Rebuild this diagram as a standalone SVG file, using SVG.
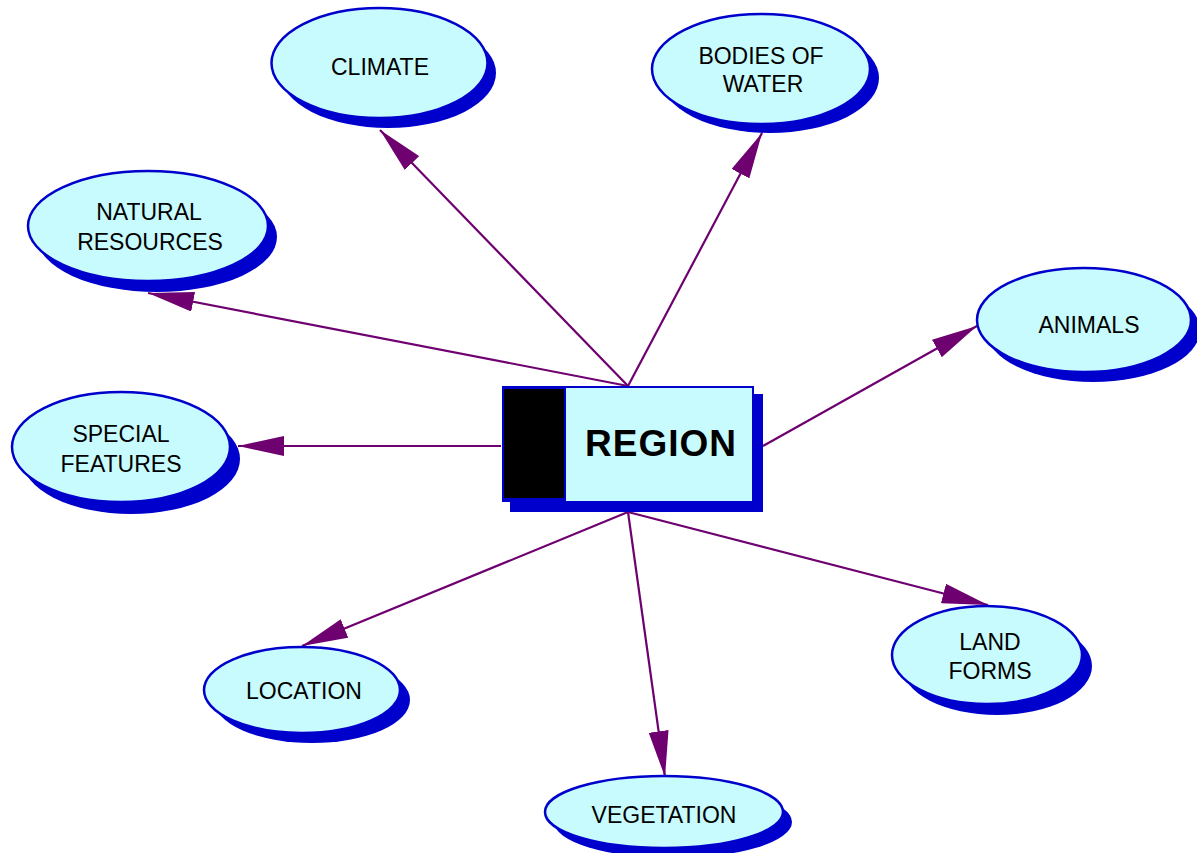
<svg xmlns="http://www.w3.org/2000/svg" width="1197" height="853" viewBox="0 0 1197 853">
<style>
.sh{fill:#0000cc;stroke:none}
.el{fill:#c8fbfd;stroke:#0000cc;stroke-width:2.5}
.lb{font-family:"Liberation Sans",Arial,sans-serif;font-size:23px;fill:#000;text-anchor:middle}
.cn{stroke:#6e0070;stroke-width:2.2;fill:none;marker-end:url(#ah)}
</style>
<defs>
<marker id="ah" markerUnits="userSpaceOnUse" viewBox="0 0 46 20" refX="46" refY="10" markerWidth="46" markerHeight="20" orient="auto">
<path d="M0,0 L46,10 L0,20 Z" fill="#6e0070"/>
</marker>
</defs>
<rect width="1197" height="853" fill="#fff"/>
<g id="connectors">
<line class="cn" x1="628" y1="386" x2="380" y2="130"/>
<line class="cn" x1="628" y1="386" x2="762" y2="133"/>
<line class="cn" x1="628" y1="386" x2="148" y2="293"/>
<line class="cn" x1="501" y1="446" x2="238" y2="446"/>
<line class="cn" x1="763" y1="446" x2="977" y2="326"/>
<line class="cn" x1="628" y1="512" x2="302" y2="646"/>
<line class="cn" x1="628" y1="512" x2="665" y2="777"/>
<line class="cn" x1="628" y1="512" x2="988" y2="605"/>
</g>
<g id="region">
<rect x="510" y="394" width="253" height="118" class="sh"/>
<rect x="502" y="386" width="252" height="116" fill="#0000cc"/>
<rect x="566" y="388" width="186" height="113" fill="#c8fbfd"/>
<rect x="504" y="389" width="60" height="109" fill="#000"/>
<text x="661" y="456" font-family="Liberation Sans,Arial,sans-serif" font-size="37" font-weight="bold" text-anchor="middle" letter-spacing="1">REGION</text>
</g>
<g id="climate">
<ellipse cx="388" cy="73" rx="108" ry="55" class="sh"/>
<ellipse cx="379.5" cy="63" rx="108" ry="55" class="el"/>
<text x="380" y="75" class="lb">CLIMATE</text>
</g>
<g id="bodies-of-water">
<ellipse cx="770" cy="78" rx="109" ry="55" class="sh"/>
<ellipse cx="761" cy="69" rx="109" ry="55" class="el"/>
<text x="761" y="64" class="lb">BODIES OF</text>
<text x="763" y="92" class="lb">WATER</text>
</g>
<g id="natural-resources">
<ellipse cx="157" cy="237" rx="120" ry="55" class="sh"/>
<ellipse cx="148" cy="226" rx="120" ry="55" class="el"/>
<text x="149" y="220" class="lb">NATURAL</text>
<text x="150" y="250" class="lb">RESOURCES</text>
</g>
<g id="animals">
<ellipse cx="1093" cy="330" rx="107" ry="52" class="sh"/>
<ellipse cx="1084" cy="320" rx="107" ry="52" class="el"/>
<text x="1089" y="333" class="lb">ANIMALS</text>
</g>
<g id="special-features">
<ellipse cx="131" cy="459" rx="109" ry="55" class="sh"/>
<ellipse cx="121" cy="447" rx="109" ry="55" class="el"/>
<text x="121" y="442" class="lb">SPECIAL</text>
<text x="121" y="472" class="lb">FEATURES</text>
</g>
<g id="location">
<ellipse cx="312" cy="700" rx="98" ry="43" class="sh"/>
<ellipse cx="302" cy="690" rx="98" ry="43" class="el"/>
<text x="304" y="699" class="lb">LOCATION</text>
</g>
<g id="land-forms">
<ellipse cx="997" cy="666" rx="95" ry="49" class="sh"/>
<ellipse cx="987" cy="655" rx="95" ry="49" class="el"/>
<text x="990" y="650" class="lb">LAND</text>
<text x="990" y="679" class="lb">FORMS</text>
</g>
<g id="vegetation">
<ellipse cx="673" cy="822" rx="119" ry="36" class="sh"/>
<ellipse cx="664" cy="812" rx="119" ry="36" class="el"/>
<text x="664" y="823" class="lb">VEGETATION</text>
</g>
</svg>
